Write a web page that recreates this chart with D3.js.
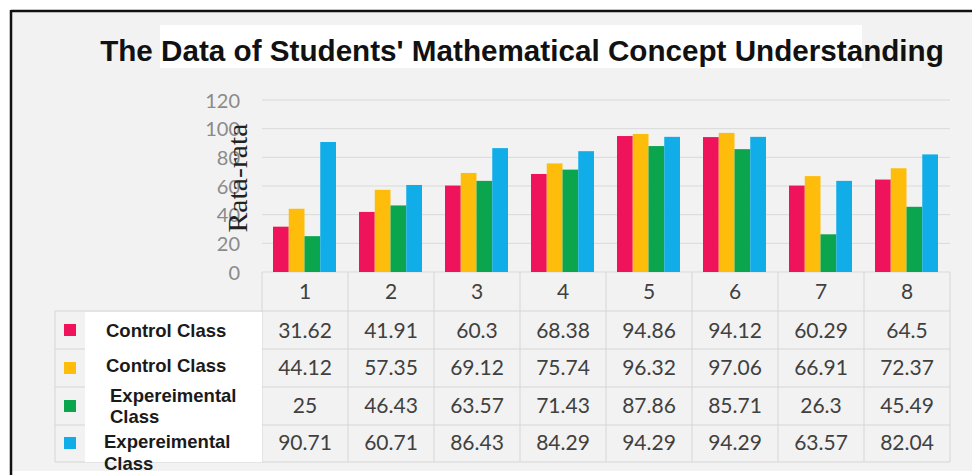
<!DOCTYPE html>
<html><head><meta charset="utf-8">
<script src="https://cdn.jsdelivr.net/npm/d3@7"></script>
<style>html,body{margin:0;padding:0;background:#fff;}svg{display:block;}</style>
</head><body>
<svg id="chart" width="972" height="475"></svg>
<script>
const categories = ["1","2","3","4","5","6","7","8"];
const seriesNames = ["Control Class","Control Class","Expereimental Class","Expereimental Class"];
const seriesLegendLines = [["Control Class"],["Control Class"],["Expereimental","Class"],["Expereimental","Class"]];
const seriesColors = ["#EF135B","#FDBD0A","#0AA54D","#10ADE8"];
const controlA = [31.62,41.91,60.3,68.38,94.86,94.12,60.29,64.5];
const controlB = [44.12,57.35,69.12,75.74,96.32,97.06,66.91,72.37];
const experimentalA = [25,46.43,63.57,71.43,87.86,85.71,26.3,45.49];
const experimentalB = [90.71,60.71,86.43,84.29,94.29,94.29,63.57,82.04];
const tableLabels = [
  ["31.62","41.91","60.3","68.38","94.86","94.12","60.29","64.5"],
  ["44.12","57.35","69.12","75.74","96.32","97.06","66.91","72.37"],
  ["25","46.43","63.57","71.43","87.86","85.71","26.3","45.49"],
  ["90.71","60.71","86.43","84.29","94.29","94.29","63.57","82.04"]
];
const yTicks = [0,20,40,60,80,100,120];
const titleText = "The Data of Students' Mathematical Concept Understanding";
const yAxisTitle = "Rata-rata";

const series = [controlA, controlB, experimentalA, experimentalB];

const svg = d3.select("#chart");
// background & frame
svg.append("rect").attr("x",11).attr("y",11).attr("width",961).attr("height",460).attr("fill","#f2f2f2");
svg.append("line").attr("x1",11).attr("x2",972).attr("y1",11).attr("y2",11).attr("stroke","#111").attr("stroke-width",2.5);
svg.append("line").attr("x1",11).attr("x2",11).attr("y1",10).attr("y2",475).attr("stroke","#111").attr("stroke-width",2.5);

// title
svg.append("rect").attr("x",160).attr("y",25).attr("width",702).attr("height",43).attr("fill","#fff");
const title = svg.append("text").attr("x",522).attr("y",61).attr("text-anchor","middle")
  .attr("font-family","'Liberation Sans', Arial, sans-serif").attr("font-weight","bold")
  .attr("font-size",25).attr("fill","#111").text(titleText);
{ const w = title.node().getComputedTextLength(); title.attr("font-size", 25*844/w); }

const x = d3.scaleBand().domain(categories).range([262,950]);
const xs = d3.scaleBand().domain(d3.range(series.length)).range([11,74]);
const y = d3.scaleLinear().domain([0,120]).range([272,100]);

// gridlines
svg.append("g").selectAll("line").data(yTicks).join("line")
  .attr("x1",262).attr("x2",950).attr("y1",d=>y(d)).attr("y2",d=>y(d))
  .attr("stroke","#d9d9d9").attr("stroke-width",1);

// y axis via d3 axis
const yAxis = svg.append("g").attr("transform","translate(246,0)")
  .call(d3.axisLeft(y).tickValues(yTicks).tickSize(0).tickPadding(6));
yAxis.select(".domain").remove();
yAxis.selectAll("text").attr("font-family","Lato, sans-serif").attr("font-size",20).attr("fill","#8a8a8a").attr("dy","0.36em");

// bars
series.forEach((vals,si)=>{
  svg.append("g").selectAll("rect").data(vals).join("rect")
    .attr("x",(d,i)=>x(categories[i])+xs(si))
    .attr("width",xs.bandwidth())
    .attr("y",d=>y(d)).attr("height",d=>y(0)-y(d))
    .attr("fill",seriesColors[si]);
});

// y axis title
svg.append("text").attr("transform","translate(247,178) rotate(-90)")
  .attr("text-anchor","middle").attr("font-family","'Liberation Serif','Times New Roman',serif")
  .attr("font-size",28).attr("fill","#222").attr("textLength",109).attr("lengthAdjust","spacingAndGlyphs")
  .text(yAxisTitle);

// data table
const rowEdges = [272,311,349,387,425,462];
const tg = svg.append("g");
tg.selectAll("line.h").data(rowEdges.slice(1)).join("line")
  .attr("x1",55).attr("x2",950).attr("y1",d=>d).attr("y2",d=>d).attr("stroke","#d6d6d6");
const colEdges = categories.map(c=>x(c)).concat([x(categories[categories.length-1])+x.bandwidth()]);
tg.selectAll("line.v").data(colEdges).join("line")
  .attr("x1",d=>d).attr("x2",d=>d).attr("y1",272).attr("y2",462).attr("stroke","#d6d6d6");
tg.append("line").attr("x1",55).attr("x2",55).attr("y1",311).attr("y2",462).attr("stroke","#d6d6d6");

// header category labels
tg.selectAll("text.cat").data(categories).join("text")
  .attr("x",d=>x(d)+x.bandwidth()/2).attr("y",299).attr("text-anchor","middle")
  .attr("font-family","Lato, sans-serif").attr("font-size",21).attr("fill","#404040").text(d=>d);

// values
const rowBase = [338,375,413,450];
tableLabels.forEach((row,ri)=>{
  tg.append("g").selectAll("text").data(row).join("text")
    .attr("x",(d,i)=>x(categories[i])+x.bandwidth()/2).attr("y",rowBase[ri])
    .attr("text-anchor","middle").attr("font-family","Lato, sans-serif").attr("font-size",21)
    .attr("fill","#404040").text(d=>d);
});

// legend
svg.append("rect").attr("x",85).attr("y",312).attr("width",177).attr("height",150).attr("fill","#fff");
const rowMid = [330,368,406,443];
seriesColors.forEach((c,i)=>{
  svg.append("rect").attr("x",64).attr("y",rowMid[i]-6).attr("width",12).attr("height",12).attr("fill",c);
});
const legPos = [
  {x:106, ys:[337]},
  {x:106, ys:[372]},
  {x:110, ys:[402,423]},
  {x:104, ys:[448,470]}
];
seriesLegendLines.forEach((lines,i)=>{
  lines.forEach((ln,j)=>{
    svg.append("text").attr("x",legPos[i].x).attr("y",legPos[i].ys[j])
      .attr("font-family","'Liberation Sans', Arial, sans-serif").attr("font-weight","bold")
      .attr("font-size",18.5).attr("fill","#1a1a1a").text(ln);
  });
});
</script>
</body></html>
